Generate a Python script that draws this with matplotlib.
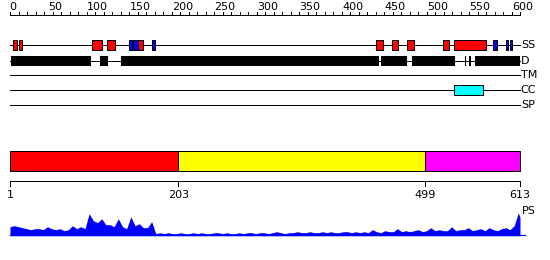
import numpy as np
import matplotlib
matplotlib.use("Agg")
import matplotlib.pyplot as plt
from matplotlib.patches import Rectangle
from matplotlib.transforms import offset_copy

# ---------------- data ----------------
track_end = 600
ruler_major = [0, 50, 100, 150, 200, 250, 300, 350, 400, 450, 500, 550, 600]

# secondary structure: (start, end, colour)
ss_helix = [(4, 8), (11, 14), (97, 108), (114, 124), (150, 156),
            (431, 439), (449, 457), (467, 475), (509, 517), (522, 560)]
ss_strand = [(140, 143), (145, 150), (167, 170), (568, 573), (583, 586), (588, 590)]

# disorder segments
disorder = [(1, 95), (106, 115), (131, 434), (436, 467), (473, 523),
            (535, 536), (540, 542), (547, 600)]

# coiled coil
coiled = [(522, 557)]

track_names = ["SS", "D", "TM", "CC", "SP"]

# domain bar
seq_len = 613
domain_bounds = [1, 203, 499, 613]
domain_colors = ["#ff0000", "#ffff00", "#ff00ff"]

# PS profile, one value every 5 residues from residue 1
ps_step = 5
ps_values = [9, 10, 9, 8, 7, 6, 7, 7, 6, 9, 7, 6, 7, 5, 6, 10, 7, 9, 7, 22,
             15, 13, 17, 11, 11, 9, 17, 9, 7, 19, 10, 12, 8, 8, 14, 2, 3, 2, 3, 2,
             2,
             3, 2, 2, 3, 2, 3, 2, 2, 3, 3, 2, 3, 2, 2, 3, 2, 3, 3, 2, 3,
             3, 2, 3, 4, 3, 2, 3, 3, 4, 3, 3, 4, 3, 3, 4, 3, 4, 3, 3, 4,
             4, 3, 4, 3,
             4, 3, 6, 4, 3, 5, 4, 4, 7, 4, 5, 4, 5, 6, 4, 5, 8, 5, 6, 5,
             5, 9, 5, 6,
             6, 8, 5, 6, 7, 5, 8, 6, 5, 7, 8, 6, 10, 23]
ps_last = 18

# ---------------- figure ----------------
W, H = 550, 260
fig = plt.figure(figsize=(W / 100, H / 100), dpi=100)
px = 0.72  # one pixel in points

left, width = 10 / W, 510 / W

ax_top = fig.add_axes([left, 0, width, 1])
ax_top.set_xlim(0, 600)
ax_top.set_ylim(H, 0)
ax_top.axis("off")

ax_dom = fig.add_axes([left, 0, width, 1])
ax_dom.set_xlim(1, seq_len)
ax_dom.set_ylim(H, 0)
ax_dom.axis("off")

ax_ps = fig.add_axes([left, (H - 235.7) / H, width, 24 / H])
ax_ps.set_xlim(1, seq_len)
ax_ps.set_ylim(0, 24)
ax_ps.axis("off")

fs = 8

# ---------------- ruler ----------------
ax_top.plot([0, track_end], [15, 15], color="black", lw=px, clip_on=False)
for t in range(0, track_end + 1, 10):
    ax_top.plot([t, t], [12, 15], color="black", lw=px, clip_on=False)
lab_tr = offset_copy(ax_top.transData, fig=fig, x=2.5, y=0, units="dots")
for t in ruler_major:
    ax_top.text(t, 6.5, str(t), transform=lab_tr, ha="center", va="center",
                fontsize=fs, clip_on=False)

# ---------------- tracks ----------------
track_y = [45, 60.5, 75, 90, 105]
for name, y in zip(track_names, track_y):
    ax_top.plot([0, track_end], [y, y], color="black", lw=px, clip_on=False, zorder=1)
    ax_top.text(track_end + 1, y, name, ha="left", va="center", fontsize=fs, clip_on=False)

def boxes(segs, y, h, color, edge="black"):
    for s, e in segs:
        ax_top.add_patch(Rectangle((s, y - h / 2), e - s, h, facecolor=color,
                                   edgecolor=edge, lw=px, zorder=3, clip_on=False))

boxes(ss_helix, track_y[0], 9.5, "#ff0000")
boxes(ss_strand, track_y[0], 9.5, "#0000ff")
boxes(disorder, track_y[1], 10, "black", edge="none")
boxes(coiled, track_y[3], 10.5, "#00ffff")

# ---------------- domain bar ----------------
for (s, e), c in zip(zip(domain_bounds[:-1], domain_bounds[1:]), domain_colors):
    ax_dom.add_patch(Rectangle((s, 150.5), e - s, 20, facecolor=c,
                               edgecolor="black", lw=px, clip_on=False))
ax_dom.plot([1, seq_len], [180.5, 180.5], color="black", lw=px, clip_on=False)
for b in domain_bounds:
    ax_dom.plot([b, b], [180.5, 185.5], color="black", lw=px, clip_on=False)
    ax_dom.text(b, 195, str(b), ha="center", va="center", fontsize=fs, clip_on=False)

# ---------------- PS profile ----------------
ps_x = np.arange(1, 1 + ps_step * len(ps_values), ps_step)
ps_x = np.append(ps_x, seq_len)
ps_y = np.append(ps_values, ps_last)
ax_ps.fill_between(ps_x, 0, ps_y, color="#0000ff", lw=0, clip_on=False)
ax_ps.plot([1, seq_len + 6], [0.3, 0.3], color="#0000ff", lw=1.2 * px, clip_on=False)
ax_dom.text(seq_len + 2, 210.5, "PS", ha="left", va="center", fontsize=fs, clip_on=False)

fig.savefig("out.png", dpi=100)
plt.close(fig)
